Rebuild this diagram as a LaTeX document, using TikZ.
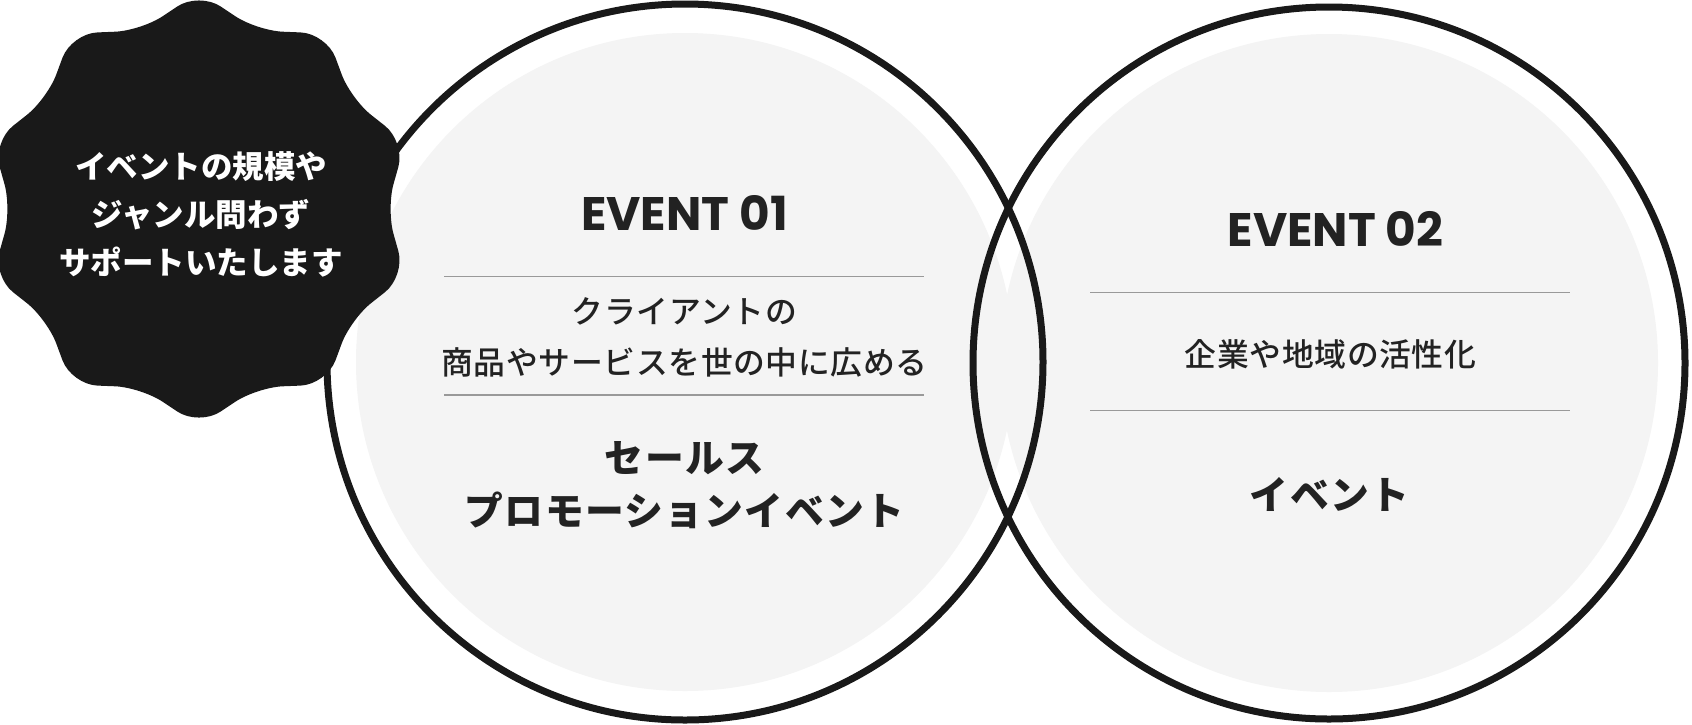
\documentclass[tikz,border=0pt]{standalone}
\usepackage{fontspec}
\newfontfamily\jpfont{Noto Sans CJK JP}
\newfontfamily\jpbig{Noto Sans CJK JP}[LetterSpace=3.4]
\newfontfamily\jpmed{Noto Sans CJK JP Medium}[LetterSpace=2]
\newfontfamily\popfont{Poppins}
\definecolor{ink}{HTML}{191919}
\definecolor{txt}{HTML}{222222}
\definecolor{rulec}{HTML}{999999}
\definecolor{disc}{HTML}{F4F4F4}
\begin{document}
\begin{tikzpicture}[x=1pt,y=-1pt,
  ring/.style={draw=ink, line width=7pt},
  sep/.style={draw=rulec, line width=1.5pt},
  title/.style={font=\popfont\bfseries\fontsize{47}{47}\selectfont, text=txt, anchor=base, inner sep=0pt},
  mid/.style={font=\jpmed\fontsize{31.8}{31.8}\selectfont, text=txt, anchor=base, inner sep=0pt},
  big/.style={font=\jpbig\bfseries\fontsize{38.8}{38.8}\selectfont, text=txt, anchor=base, inner sep=0pt},
  badgetext/.style={font=\jpfont\bfseries\fontsize{31.5}{31.5}\selectfont, text=white, anchor=base, inner sep=0pt},
]
\useasboundingbox[fill=white] (0,0) rectangle (1692,724);
\coordinate (cL) at (685,362);
\coordinate (cR) at (1329,363);
\fill[disc] (cL) circle[radius=329];
\fill[disc] (cR) circle[radius=329];
% separators
\coordinate (l1a) at (444,276.7); \coordinate (l1b) at (924,276.7);
\coordinate (l2a) at (444,395);   \coordinate (l2b) at (924,395);
\coordinate (r1a) at (1090,292.7); \coordinate (r1b) at (1570,292.7);
\coordinate (r2a) at (1090,410.7); \coordinate (r2b) at (1570,410.7);
\draw[sep] (l1a) -- (l1b);
\draw[sep] (l2a) -- (l2b);
\draw[sep] (r1a) -- (r1b);
\draw[sep] (r2a) -- (r2b);
% texts
\node[title] (e1) at (684.5,230.3) {EVENT 01};
\node[mid] (d1a) at (684.5,323) {クライアントの};
\node[mid] (d1b) at (684.5,374.5) {商品やサービスを世の中に広める};
\node[big] (k1a) at (684.5,472) {セールス};
\node[big] (k1b) at (684.5,525.5) {プロモーションイベント};
\node[title] (e2) at (1335.5,246.7) {EVENT 02};
\node[mid] (d2) at (1330.5,366) {企業や地域の活性化};
\node[big] (k2) at (1329.5,509) {イベント};
% rings
\draw[ring] (cL) circle[radius=358];
\draw[ring] (cR) circle[radius=356];
% badge
\fill[ink, shift={(199,209)}, rounded corners=26pt] (90:217)
  \foreach \k in {0,...,8} { -- ({108+36*\k}:187.5) -- ({126+36*\k}:217) }
  -- (432:187.5) -- cycle;
\node[badgetext] (b1) at (201,178) {イベントの規模や};
\node[badgetext] (b2) at (201,226) {ジャンル問わず};
\node[badgetext] (b3) at (201,274.5) {サポートいたします};
\end{tikzpicture}
\end{document}
